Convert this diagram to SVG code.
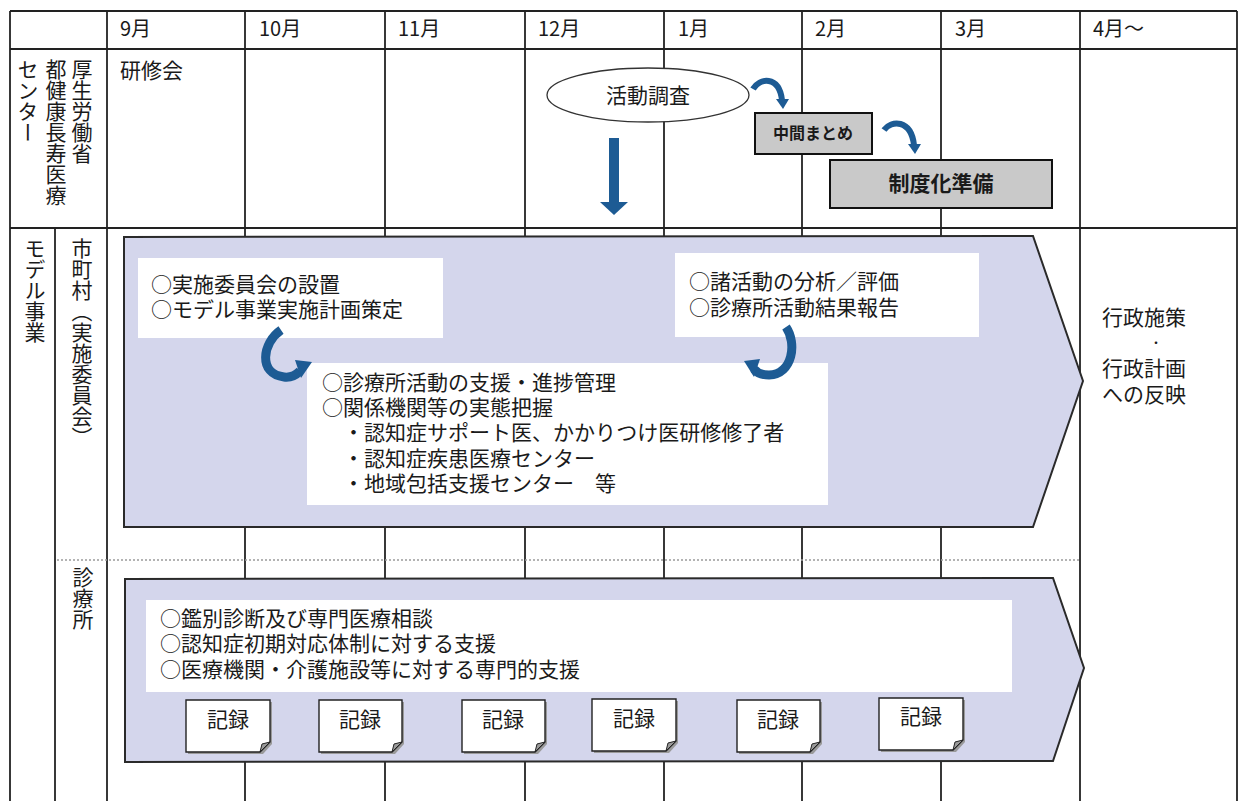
<svg xmlns="http://www.w3.org/2000/svg" width="1239" height="801" viewBox="0 0 1239 801">
<style>
text{font-family:"Noto Sans CJK JP","Noto Sans",sans-serif;fill:#1a1a1a}
.t{font-size:21px}
.m{font-size:20px}
.v{font-size:21px;writing-mode:vertical-rl}
.grid line{stroke:#222;stroke-width:1.8}
.pent{fill:#d4d6ec;stroke:#2a2a2a;stroke-width:2}
.wbox{fill:#ffffff}
.gbox{fill:#c9c9c9;stroke:#111;stroke-width:2}
.note{fill:#fff;stroke:#222;stroke-width:1.4}
.shadow{fill:#9a9a9a}
.fold{fill:#9a9a9a;stroke:#222;stroke-width:1}
.blue{fill:none;stroke:#1d5b94;stroke-width:7}
.bluef{fill:#1d5b94}
.b{font-weight:bold}
</style>
<rect width="1239" height="801" fill="#fff"/>
<g id="grid" class="grid">
<line x1="10" y1="11" x2="1237" y2="11"/>
<line x1="10" y1="49" x2="1237" y2="49"/>
<line x1="10" y1="228" x2="1237" y2="228"/>
<line x1="10" y1="11" x2="10" y2="801"/>
<line x1="55" y1="228" x2="55" y2="801"/>
<line x1="107" y1="11" x2="107" y2="801"/>
<line x1="245" y1="11" x2="245" y2="801"/>
<line x1="385" y1="11" x2="385" y2="801"/>
<line x1="525" y1="11" x2="525" y2="801"/>
<line x1="664" y1="11" x2="664" y2="801"/>
<line x1="802" y1="11" x2="802" y2="801"/>
<line x1="941" y1="11" x2="941" y2="801"/>
<line x1="1080" y1="11" x2="1080" y2="801"/>
<line x1="1237" y1="11" x2="1237" y2="801"/>
<line x1="57" y1="560" x2="1080" y2="560" style="stroke:#9a9a9a;stroke-width:1.4;stroke-dasharray:2 2"/>
</g>
<g id="header">
<text class="m" x="120" y="36">9月</text>
<text class="m" x="259" y="36">10月</text>
<text class="m" x="398" y="36">11月</text>
<text class="m" x="538" y="36">12月</text>
<text class="m" x="678" y="36">1月</text>
<text class="m" x="815" y="36">2月</text>
<text class="m" x="955" y="36">3月</text>
<text class="m" x="1093" y="36">4月～</text>
</g>
<g id="row-labels">
<text class="v" x="82" y="59">厚生労働省</text>
<text class="v" x="56" y="59">都健康長寿医療</text>
<text class="v" x="28" y="59">センター</text>
<text class="v" x="35" y="238">モデル事業</text>
<text class="v" x="82" y="238">市町村（実施委員会）</text>
<text class="v" x="83" y="567">診療所</text>
</g>
<g id="kenshukai"><text class="t" x="120" y="78">研修会</text></g>
<g id="upper-band"><polygon class="pent" points="124,237 1033,236 1083,381 1033,527 124,527"/></g>
<g id="lower-band"><polygon class="pent" points="125,579 1053,578 1084,668 1053,761 125,762"/></g>
<g id="katsudo-chosa">
<ellipse cx="648" cy="95" rx="101" ry="27" fill="#fff" stroke="#333" stroke-width="1.3"/>
<text class="t" x="648" y="103" text-anchor="middle">活動調査</text>
</g>
<g id="chukan-matome">
<rect class="gbox" x="755" y="113" width="117" height="41"/>
<text class="b" x="813" y="139" text-anchor="middle" font-size="16">中間まとめ</text>
</g>
<g id="seidoka-junbi">
<rect class="gbox" x="830" y="160" width="222" height="48"/>
<text class="b" x="941" y="191" text-anchor="middle" font-size="21">制度化準備</text>
</g>
<g id="box-setchi">
<rect class="wbox" x="138" y="258" width="305" height="80"/>
<text class="t"><tspan x="151" y="292">○実施委員会の設置</tspan><tspan x="151" y="317">○モデル事業実施計画策定</tspan></text>
</g>
<g id="box-shien">
<rect class="wbox" x="307" y="363" width="521" height="142"/>
<text class="t"><tspan x="322" y="390">○診療所活動の支援・進捗管理</tspan><tspan x="322" y="415">○関係機関等の実態把握</tspan><tspan x="343" y="440">・認知症サポート医、かかりつけ医研修修了者</tspan><tspan x="343" y="466">・認知症疾患医療センター</tspan><tspan x="343" y="491">・地域包括支援センター　等</tspan></text>
</g>
<g id="box-bunseki">
<rect class="wbox" x="675" y="253" width="304" height="84"/>
<text class="t"><tspan x="689" y="289">○諸活動の分析／評価</tspan><tspan x="689" y="315">○診療所活動結果報告</tspan></text>
</g>
<g id="gyosei">
<text class="t"><tspan x="1102" y="325">行政施策</tspan><tspan x="1150" y="348" font-size="12">・</tspan><tspan x="1102" y="376">行政計画</tspan><tspan x="1102" y="402">への反映</tspan></text>
</g>
<g id="box-shinryojo">
<rect class="wbox" x="146" y="600" width="866" height="92"/>
<text class="t"><tspan x="160" y="626">○鑑別診断及び専門医療相談</tspan><tspan x="160" y="651">○認知症初期対応体制に対する支援</tspan><tspan x="160" y="677">○医療機関・介護施設等に対する専門的支援</tspan></text>
</g>
<g id="kiroku-1">
<path class="shadow" d="M188,702 H272 V744 L263,754 H188 Z"/>
<path class="note" d="M186,700 H270 V742 L260,752 H186 Z"/>
<path class="fold" d="M270,742 L260,752 L262,744 Z"/>
<text class="t" x="228" y="727" text-anchor="middle">記録</text>
</g>
<g id="kiroku-2">
<path class="shadow" d="M321,702 H404 V744 L395,754 H321 Z"/>
<path class="note" d="M319,700 H402 V742 L392,752 H319 Z"/>
<path class="fold" d="M402,742 L392,752 L394,744 Z"/>
<text class="t" x="360" y="727" text-anchor="middle">記録</text>
</g>
<g id="kiroku-3">
<path class="shadow" d="M464,702 H547 V744 L538,754 H464 Z"/>
<path class="note" d="M462,700 H545 V742 L535,752 H462 Z"/>
<path class="fold" d="M545,742 L535,752 L537,744 Z"/>
<text class="t" x="503" y="727" text-anchor="middle">記録</text>
</g>
<g id="kiroku-4">
<path class="shadow" d="M594,701 H678 V743 L669,753 H594 Z"/>
<path class="note" d="M592,699 H676 V741 L666,751 H592 Z"/>
<path class="fold" d="M676,741 L666,751 L668,743 Z"/>
<text class="t" x="634" y="726" text-anchor="middle">記録</text>
</g>
<g id="kiroku-5">
<path class="shadow" d="M739,702 H822 V744 L813,754 H739 Z"/>
<path class="note" d="M737,700 H820 V742 L810,752 H737 Z"/>
<path class="fold" d="M820,742 L810,752 L812,744 Z"/>
<text class="t" x="778" y="727" text-anchor="middle">記録</text>
</g>
<g id="kiroku-6">
<path class="shadow" d="M881,700 H965 V742 L956,752 H881 Z"/>
<path class="note" d="M879,698 H963 V740 L953,750 H879 Z"/>
<path class="fold" d="M963,740 L953,750 L955,742 Z"/>
<text class="t" x="921" y="724" text-anchor="middle">記録</text>
</g>
<g id="connectors">
<rect class="bluef" x="609" y="138" width="10" height="65"/>
<polygon class="bluef" points="600,202 628,202 614,215"/>
<path class="blue" style="stroke-width:6" d="M753,89 C759,78 779,75 782,100"/>
<polygon class="bluef" points="776,99 789,99 783,109"/>
<path class="blue" style="stroke-width:6" d="M884,130 C891,120 911,119 914,145"/>
<polygon class="bluef" points="908,144 921,144 915,154"/>
<path class="blue" style="stroke-width:9" d="M281,330 C262,343 258,374 284,377 C291,378 296,375 300,371"/>
<polygon class="bluef" points="295,360 312,362 301,378"/>
<path class="blue" style="stroke-width:9" d="M786,327 C797,343 793,374 769,375 C762,375 757,373 754,369"/>
<polygon class="bluef" points="760,359 744,361 754,377"/>
</g>
</svg>
